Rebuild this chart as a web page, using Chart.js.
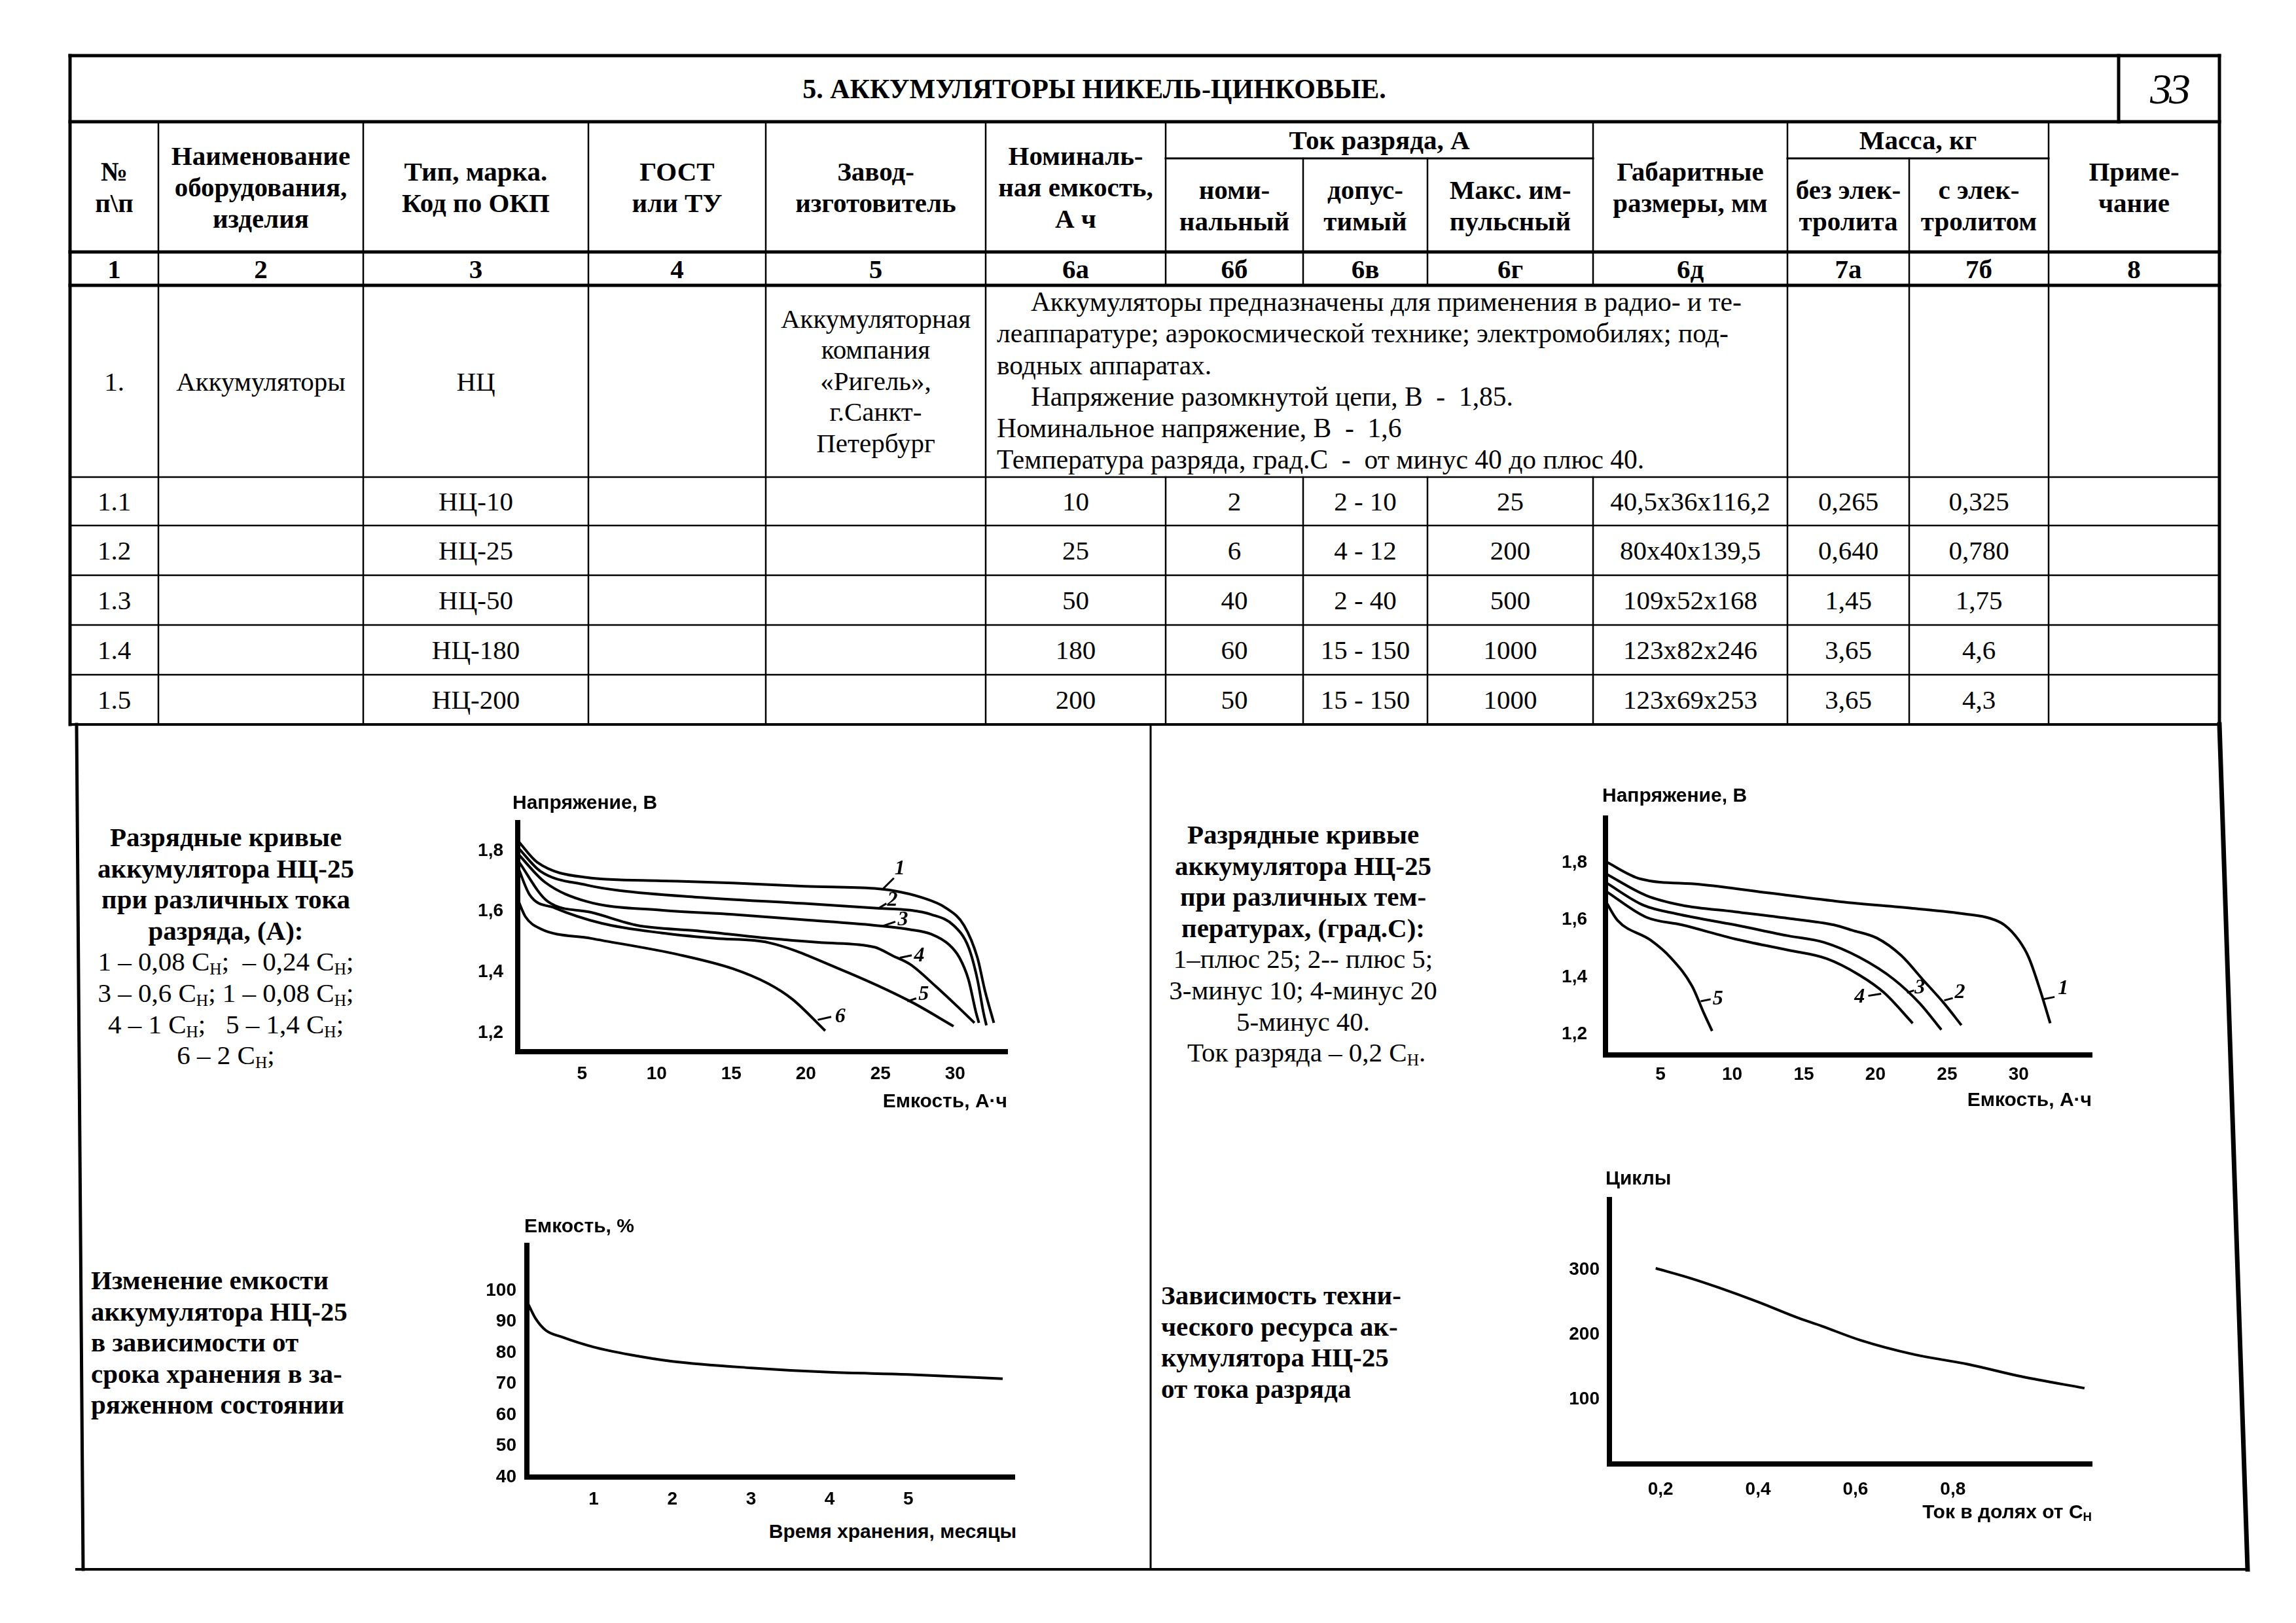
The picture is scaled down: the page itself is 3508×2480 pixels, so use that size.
<!DOCTYPE html>
<html lang="ru">
<head>
<meta charset="utf-8">
<title>5. Аккумуляторы никель-цинковые</title>
<script src="https://cdn.jsdelivr.net/npm/chart.js@4.4.1/dist/chart.umd.min.js"></script>
<style>
  html, body { margin: 0; padding: 0; background: #fff; }
  #page { position: relative; width: 3508px; height: 2480px; overflow: hidden; background: #fff;
          font-family: "Liberation Serif", "Times New Roman", serif; color: #000; }
  .c { position: absolute; display: flex; align-items: center; justify-content: center;
       text-align: center; font-size: 41px; line-height: 48px; }
  .b { font-weight: bold; }
  .blk { position: absolute; font-size: 41px; line-height: 47.6px; white-space: nowrap; }
  .ax { position: absolute; font-family: "Liberation Sans", Arial, sans-serif; font-weight: bold;
        font-size: 30px; line-height: 30px; white-space: nowrap; }
  sub { font-size: 62%; vertical-align: -0.22em; line-height: 0; }
  canvas { position: absolute; }
  svg { position: absolute; left: 0; top: 0; }
</style>
</head>
<body>
<div id="page">
  <svg id="frame" width="3508" height="2480"></svg>
  <canvas id="rateChart"></canvas>
  <canvas id="tempChart"></canvas>
  <canvas id="storeChart"></canvas>
  <canvas id="cycleChart"></canvas>
</div>
<script>
// ---- данные графиков ----
// разрядные кривые НЦ-25 при различных токах: емкость, А·ч / напряжение, В
const rate1Cap = [0.69, 2.0, 5.3, 10.3, 15.1, 19.9, 24.6, 25.8, 27.7, 29.4, 30.6, 31.5, 32.0, 32.6];
const rate1V   = [1.834, 1.762, 1.712, 1.701, 1.694, 1.683, 1.676, 1.669, 1.647, 1.611, 1.554, 1.447, 1.339, 1.232];
const rate2Cap = [0.69, 2.2, 5.3, 7.5, 12.7, 19.9, 24.6, 27.0, 28.4, 29.9, 30.9, 31.5, 31.9, 32.1];
const rate2V   = [1.812, 1.733, 1.687, 1.669, 1.647, 1.626, 1.611, 1.604, 1.590, 1.554, 1.482, 1.375, 1.267, 1.224];
const rate3Cap = [0.69, 2.5, 5.3, 10.3, 15.1, 19.9, 24.6, 27.0, 28.4, 29.6, 30.3, 30.9, 31.4, 31.6];
const rate3V   = [1.791, 1.697, 1.633, 1.604, 1.590, 1.572, 1.554, 1.540, 1.525, 1.490, 1.447, 1.375, 1.267, 1.232];
const rate4Cap = [0.69, 2.7, 5.6, 8.7, 12.7, 17.5, 21.0, 24.6, 25.8, 27.0, 28.7, 30.1, 31.3];
const rate4V   = [1.769, 1.633, 1.597, 1.554, 1.536, 1.511, 1.497, 1.482, 1.454, 1.425, 1.353, 1.289, 1.232];
const rate5Cap = [0.69, 1.5, 3.2, 6.3, 10.3, 13.9, 17.5, 22.2, 27.0, 29.9];
const rate5V   = [1.748, 1.654, 1.611, 1.561, 1.529, 1.511, 1.497, 1.411, 1.303, 1.221];
const rate6Cap = [0.69, 1.2, 2.2, 5.6, 11.5, 15.1, 17.5, 19.1, 21.3];
const rate6V   = [1.640, 1.583, 1.543, 1.511, 1.457, 1.411, 1.361, 1.310, 1.206];

// разрядные кривые НЦ-25 при различных температурах
const temp1Cap = [1.16, 3.6, 7.7, 12.7, 17.6, 22.6, 26.3, 28.0, 29.0, 30.0, 30.7, 31.5, 32.2];
const temp1V   = [1.804, 1.743, 1.724, 1.693, 1.663, 1.640, 1.620, 1.605, 1.582, 1.529, 1.468, 1.353, 1.238];
const temp2Cap = [1.16, 4.0, 6.5, 10.2, 13.9, 17.1, 18.4, 20.1, 21.8, 23.3, 24.8, 26.0];
const temp2V   = [1.762, 1.685, 1.651, 1.628, 1.605, 1.582, 1.563, 1.536, 1.475, 1.391, 1.307, 1.231];
const temp3Cap = [1.16, 3.8, 6.2, 10.2, 13.9, 16.4, 18.9, 21.3, 23.1, 24.6];
const temp3V   = [1.731, 1.651, 1.620, 1.582, 1.544, 1.521, 1.468, 1.391, 1.307, 1.215];
const temp4Cap = [1.16, 4.0, 6.5, 10.2, 13.9, 16.6, 18.9, 20.6, 22.6];
const temp4V   = [1.701, 1.609, 1.582, 1.533, 1.494, 1.464, 1.406, 1.345, 1.238];
const temp5Cap = [1.16, 2.0, 4.3, 5.7, 7.2, 8.0, 8.6];
const temp5V   = [1.666, 1.598, 1.529, 1.468, 1.368, 1.276, 1.211];

// изменение емкости от срока хранения
const storeMonths = [0.16, 0.26, 0.39, 0.6, 1.0, 1.47, 2.0, 3.0, 4.0, 5.0, 6.2];
const storeCapPct = [96, 91, 87.2, 85, 81.8, 79.3, 77.2, 75.1, 73.7, 73.0, 71.6];

// технический ресурс от тока разряда
const cycleCurrent = [0.19, 0.26, 0.32, 0.40, 0.48, 0.53, 0.61, 0.72, 0.83, 0.94, 1.07];
const cycleCount   = [302, 287, 272, 250, 226, 213, 191, 169, 154, 135, 117];

// метки осей
const capTicks = [5, 10, 15, 20, 25, 30];
const voltTicks = [1.2, 1.4, 1.6, 1.8];
const monthTicks = [1, 2, 3, 4, 5];
const pctTicks = [40, 50, 60, 70, 80, 90, 100];
const currTicks = [0.2, 0.4, 0.6, 0.8];
const cycleTicks = [100, 200, 300];

// ---- таблица ----
const rowNums = ['1.1', '1.2', '1.3', '1.4', '1.5'];
const rowTypes = ['НЦ-10', 'НЦ-25', 'НЦ-50', 'НЦ-180', 'НЦ-200'];
const rowCapacity = ['10', '25', '50', '180', '200'];
const rowNominal = ['2', '6', '40', '60', '50'];
const rowAllowed = ['2 - 10', '4 - 12', '2 - 40', '15 - 150', '15 - 150'];
const rowPulse = ['25', '200', '500', '1000', '1000'];
const rowSize = ['40,5x36x116,2', '80x40x139,5', '109x52x168', '123x82x246', '123x69x253'];
const rowMassDry = ['0,265', '0,640', '1,45', '3,65', '3,65'];
const rowMassWet = ['0,325', '0,780', '1,75', '4,6', '4,3'];
const colNumbers = ['1', '2', '3', '4', '5', '6а', '6б', '6в', '6г', '6д', '7а', '7б', '8'];

// ---- разметка страницы ----
const colX = [107, 242, 555, 899, 1170, 1506, 1781, 1991, 2181, 2434, 2731, 2917, 3130, 3391];
const rowY = [729, 803, 879, 955, 1031, 1107];
const page = document.getElementById('page');

function cell(x0, y0, x1, y1, html, cls, extra) {
  const d = document.createElement('div');
  d.className = 'c ' + (cls || '');
  d.style.left = x0 + 'px'; d.style.top = y0 + 'px';
  d.style.width = (x1 - x0) + 'px'; d.style.height = (y1 - y0) + 'px';
  if (extra) Object.assign(d.style, extra);
  d.innerHTML = html;
  page.appendChild(d);
}

// линии рамки
const segs = [
  [107, 85, 3391, 85, 5], [107, 85, 107, 1107, 5], [3391, 85, 3391, 1107, 5],
  [107, 186, 3391, 186, 5], [3237, 85, 3237, 186, 5],
  [107, 385, 3391, 385, 5], [107, 436, 3391, 436, 5],
  [1781, 242, 2434, 242, 3], [2731, 242, 3130, 242, 3],
  [107, 1107, 3391, 1107, 4],
  // нижняя часть
  [117, 1107, 127, 2398, 5], [117, 2398, 3434, 2398, 4], [3391, 1107, 3434, 2398, 7],
  [1758, 1107, 1758, 2398, 3]
];
rowY.slice(0, 5).forEach(y => segs.push([107, y, 3391, y, 2.5]));
[242, 555, 899, 1170, 1506, 2731, 3130].forEach(x => segs.push([x, 186, x, 1107, 2.5]));
segs.push([2917, 242, 2917, 1107, 2.5]);
segs.push([1781, 186, 1781, 436, 2.5], [1781, 729, 1781, 1107, 2.5]);
segs.push([2434, 186, 2434, 436, 2.5], [2434, 729, 2434, 1107, 2.5]);
[1991, 2181].forEach(x => segs.push([x, 242, x, 436, 2.5], [x, 729, x, 1107, 2.5]));
document.getElementById('frame').innerHTML = segs.map(s =>
  `<line x1="${s[0]}" y1="${s[1]}" x2="${s[2]}" y2="${s[3]}" stroke="#000" stroke-width="${s[4]}" stroke-linecap="square"/>`).join('');

// заголовок
cell(107, 85, 3237, 186, '5. АККУМУЛЯТОРЫ НИКЕЛЬ-ЦИНКОВЫЕ.', 'b', { fontSize: '42px' });
cell(3237, 85, 3391, 186, '33', '', { fontSize: '66px', fontStyle: 'italic', letterSpacing: '-4px' });

// шапка
cell(107, 186, 242, 385, '№<br>п\\п', 'b');
cell(242, 186, 555, 385, 'Наименование<br>оборудования,<br>изделия', 'b');
cell(555, 186, 899, 385, 'Тип, марка.<br>Код по ОКП', 'b');
cell(899, 186, 1170, 385, 'ГОСТ<br>или ТУ', 'b');
cell(1170, 186, 1506, 385, 'Завод-<br>изготовитель', 'b');
cell(1506, 186, 1781, 385, 'Номиналь-<br>ная емкость,<br>А ч', 'b');
cell(1781, 186, 2434, 242, 'Ток разряда, А', 'b');
cell(1781, 242, 1991, 385, 'номи-<br>нальный', 'b');
cell(1991, 242, 2181, 385, 'допус-<br>тимый', 'b');
cell(2181, 242, 2434, 385, 'Макс. им-<br>пульсный', 'b');
cell(2434, 186, 2731, 385, 'Габаритные<br>размеры, мм', 'b');
cell(2731, 186, 3130, 242, 'Масса, кг', 'b');
cell(2731, 242, 2917, 385, 'без элек-<br>тролита', 'b');
cell(2917, 242, 3130, 385, 'с элек-<br>тролитом', 'b');
cell(3130, 186, 3391, 385, 'Приме-<br>чание', 'b');
colNumbers.forEach((t, i) => cell(colX[i], 385, colX[i + 1], 436, t, 'b'));

// строка 1
cell(107, 436, 242, 729, '1.');
cell(242, 436, 555, 729, 'Аккумуляторы');
cell(555, 436, 899, 729, 'НЦ');
cell(1170, 436, 1506, 729, 'Аккумуляторная<br>компания<br>«Ригель»,<br>г.Санкт-<br>Петербург', '', { lineHeight: '47.5px' });
const desc = document.createElement('div');
desc.className = 'blk';
desc.style.left = '1523px'; desc.style.top = '437px'; desc.style.lineHeight = '48.3px';
desc.style.fontSize = '41.5px';
desc.innerHTML = '&nbsp;&nbsp;&nbsp;&nbsp;&nbsp;Аккумуляторы предназначены для применения в радио- и те-<br>' +
  'леаппаратуре; аэрокосмической технике; электромобилях; под-<br>' +
  'водных аппаратах.<br>' +
  '&nbsp;&nbsp;&nbsp;&nbsp;&nbsp;Напряжение разомкнутой цепи, В&nbsp; -&nbsp; 1,85.<br>' +
  'Номинальное напряжение, В&nbsp; -&nbsp; 1,6<br>' +
  'Температура разряда, град.С&nbsp; -&nbsp; от минус 40 до плюс 40.';
page.appendChild(desc);

// строки 1.1 - 1.5
const rowCols = [rowNums, null, rowTypes, null, null, rowCapacity, rowNominal, rowAllowed, rowPulse, rowSize, rowMassDry, rowMassWet, null];
for (let r = 0; r < 5; r++) {
  rowCols.forEach((arr, i) => {
    if (arr) cell(colX[i], rowY[r], colX[i + 1], rowY[r + 1], arr[r]);
  });
}

// подписи к графикам
function block(left, top, width, html, align) {
  const d = document.createElement('div');
  d.className = 'blk';
  d.style.left = left + 'px'; d.style.top = top + 'px'; d.style.width = width + 'px';
  d.style.textAlign = align;
  d.innerHTML = html;
  page.appendChild(d);
}
block(95, 1256, 500,
  '<b>Разрядные кривые<br>аккумулятора НЦ-25<br>при различных тока<br>разряда, (А):</b><br>' +
  '1 – 0,08 C<sub>Н</sub>;&nbsp; – 0,24 C<sub>Н</sub>;<br>3 – 0,6 C<sub>Н</sub>; 1 – 0,08 C<sub>Н</sub>;<br>' +
  '4 – 1 C<sub>Н</sub>;&nbsp;&nbsp; 5 – 1,4 C<sub>Н</sub>;<br>6 – 2 C<sub>Н</sub>;', 'center');
block(1731, 1252, 520,
  '<b>Разрядные кривые<br>аккумулятора НЦ-25<br>при различных тем-<br>пературах, (град.С):</b><br>' +
  '1–плюс 25; 2-- плюс 5;<br>3-минус 10; 4-минус 20<br>5-минус 40.<br>&nbsp;Ток разряда – 0,2 C<sub>Н</sub>.', 'center');
block(139, 1933, 500,
  '<b>Изменение емкости<br>аккумулятора НЦ-25<br>в зависимости от<br>срока хранения в за-<br>ряженном состоянии</b>', 'left');
block(1774, 1956, 500,
  '<b>Зависимость техни-<br>ческого ресурса ак-<br>кумулятора НЦ-25<br>от тока разряда</b>', 'left');

// названия осей
function axTitle(html, x, yc, right) {
  const d = document.createElement('div');
  d.className = 'ax';
  d.style.top = (yc - 15) + 'px';
  if (right) d.style.right = (3508 - x) + 'px'; else d.style.left = x + 'px';
  d.innerHTML = html;
  page.appendChild(d);
}
axTitle('Напряжение, В', 783, 1226);
axTitle('Емкость, А·ч', 1539, 1682, true);
axTitle('Напряжение, В', 2448, 1215);
axTitle('Емкость, А·ч', 3196, 1680, true);
axTitle('Емкость, %', 801, 1873);
axTitle('Время хранения, месяцы', 1553, 2340, true);
axTitle('Циклы', 2453, 1800);
axTitle('Ток в долях от С<sub>Н</sub>', 3196, 2310, true);

// ---- графики ----
const SANS = '"Liberation Sans", Arial, sans-serif';
const comma = d => v => Number(v).toFixed(d).replace('.', ',');

const curveTags = {
  id: 'curveTags',
  afterDatasetsDraw(chart, args, opts) {
    const { ctx, scales: { x, y } } = chart;
    (opts.items || []).forEach(it => {
      ctx.save();
      ctx.strokeStyle = '#000';
      ctx.lineWidth = 3;
      ctx.beginPath();
      ctx.moveTo(x.getPixelForValue(it.from[0]), y.getPixelForValue(it.from[1]));
      ctx.lineTo(x.getPixelForValue(it.to[0]), y.getPixelForValue(it.to[1]));
      ctx.stroke();
      ctx.fillStyle = '#000';
      ctx.font = 'italic bold 32px "Liberation Serif"';
      ctx.textAlign = 'center';
      ctx.textBaseline = 'middle';
      ctx.fillText(it.t, x.getPixelForValue(it.at[0]), y.getPixelForValue(it.at[1]));
      ctx.restore();
    });
  }
};

function axis(c, horizontal, size) {
  return {
    type: 'linear', min: c.min, max: c.max,
    afterBuildTicks: s => { s.ticks = c.ticks.map(v => ({ value: v })); },
    afterFit: s => { if (horizontal) s.height = size; else s.width = size; },
    grid: { display: false, drawTicks: false },
    border: { display: true, color: '#000', width: 8 },
    ticks: {
      color: '#000', padding: c.pad, autoSkip: false, maxRotation: 0,
      font: { family: SANS, size: 28, weight: 'bold' },
      callback: c.fmt
    }
  };
}

// area: [left, top, right, bottom] области построения на странице
const PAD = 60;
function makeChart(id, area, mL, mB, xCfg, yCfg, series, tags) {
  const cv = document.getElementById(id);
  const left = area[0] - mL, top = area[1] - PAD;
  cv.width = area[2] - left + PAD;
  cv.height = area[3] + mB - top;
  cv.style.left = left + 'px';
  cv.style.top = top + 'px';
  return new Chart(cv, {
    type: 'line',
    data: {
      datasets: series.map(s => ({
        data: s[0].map((v, i) => ({ x: v, y: s[1][i] })),
        borderColor: '#000', borderWidth: 4, pointRadius: 0, fill: false,
        cubicInterpolationMode: 'monotone'
      }))
    },
    options: {
      responsive: false, animation: false, devicePixelRatio: 1,
      layout: { autoPadding: false, padding: { left: 0, top: PAD, right: PAD, bottom: 0 } },
      plugins: { legend: { display: false }, tooltip: { enabled: false }, curveTags: { items: tags || [] } },
      scales: { x: axis(xCfg, true, mB), y: axis(yCfg, false, mL) }
    },
    plugins: [curveTags]
  });
}

makeChart('rateChart', [791, 1257, 1539, 1607], 91, 70,
  { min: 0.69, max: 33.5, ticks: capTicks, pad: 17, fmt: v => String(v) },
  { min: 1.137, max: 1.893, ticks: voltTicks, pad: 22, fmt: comma(1) },
  [[rate1Cap, rate1V], [rate2Cap, rate2V], [rate3Cap, rate3V], [rate4Cap, rate4V], [rate5Cap, rate5V], [rate6Cap, rate6V]],
  [
    { t: '1', from: [25.2, 1.676], to: [25.9, 1.71], at: [26.3, 1.74] },
    { t: '2', from: [24.9, 1.611], to: [25.4, 1.626], at: [25.8, 1.637] },
    { t: '3', from: [25.1, 1.551], to: [26.0, 1.566], at: [26.5, 1.572] },
    { t: '4', from: [26.3, 1.447], to: [27.1, 1.455], at: [27.6, 1.454] },
    { t: '5', from: [26.8, 1.303], to: [27.4, 1.313], at: [27.9, 1.325] },
    { t: '6', from: [20.8, 1.242], to: [21.7, 1.252], at: [22.3, 1.253] }
  ]);

makeChart('tempChart', [2453, 1250, 3196, 1612], 80, 66,
  { min: 1.16, max: 35.1, ticks: capTicks, pad: 13, fmt: v => String(v) },
  { min: 1.127, max: 1.956, ticks: voltTicks, pad: 28, fmt: comma(1) },
  [[temp1Cap, temp1V], [temp2Cap, temp2V], [temp3Cap, temp3V], [temp4Cap, temp4V], [temp5Cap, temp5V]],
  [
    { t: '1', from: [31.7, 1.322], to: [32.5, 1.330], at: [33.1, 1.36] },
    { t: '2', from: [24.8, 1.318], to: [25.4, 1.326], at: [25.9, 1.345] },
    { t: '3', from: [22.2, 1.345], to: [22.7, 1.353], at: [23.1, 1.362] },
    { t: '4', from: [20.4, 1.341], to: [19.5, 1.334], at: [18.9, 1.33] },
    { t: '5', from: [7.8, 1.315], to: [8.5, 1.322], at: [9.0, 1.322] }
  ]);

makeChart('storeChart', [805, 1903, 1550, 2257], 90, 60,
  { min: 0.15, max: 6.35, ticks: monthTicks, pad: 17, fmt: v => String(v) },
  { min: 40, max: 114.5, ticks: pctTicks, pad: 16, fmt: v => String(v) },
  [[storeMonths, storeCapPct]]);

makeChart('cycleChart', [2459, 1833, 3196, 2237], 90, 60,
  { min: 0.095, max: 1.085, ticks: currTicks, pad: 22, fmt: comma(1) },
  { min: 0, max: 408, ticks: cycleTicks, pad: 15, fmt: v => String(v) },
  [[cycleCurrent, cycleCount]]);
</script>
</body>
</html>
